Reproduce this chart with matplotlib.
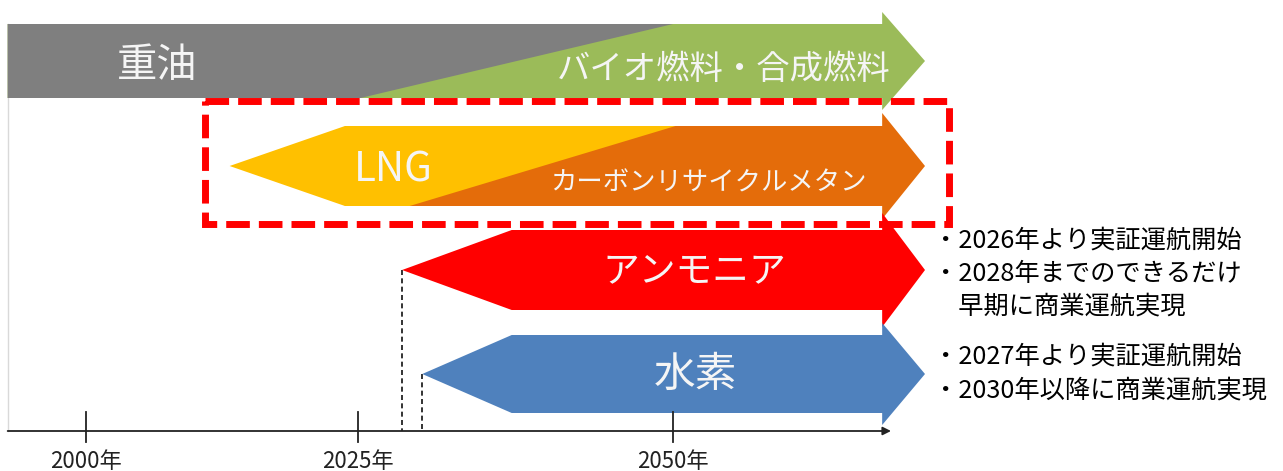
import numpy as np
import matplotlib
matplotlib.use("Agg")
import matplotlib.pyplot as plt
from matplotlib.patches import Polygon, Rectangle

plt.rcParams['font.family'] = ['Noto Sans CJK JP', 'DejaVu Sans']

# ---- data (years) ----
tick_years = [2000, 2025, 2050]
tick_labels = ["2000年", "2025年", "2050年"]

fuels = ["重油", "LNG", "アンモニア", "水素"]
fuel_colors = ["#7f7f7f", "#ffc000", "#ff0000", "#4f81bd"]
fuel_start = [1992.8, 2013.2, 2028.5, 2030.1]      # left end / tip of each arrow
left_head_base = [None, 2023.8, 2037.2, 2037.2]

next_fuels = ["バイオ燃料・合成燃料", "カーボンリサイクルメタン"]
next_colors = ["#9bbb59", "#e46c0a"]
switch_begin = [2025.2, 2029.1]   # new fuel appears (lower edge)
switch_full = [2050.0, 2050.2]    # new fuel fills the band (upper edge)

end_base = 2066.6
end_tip = 2070.0
axis_end = 2067.3

notes = [["・2026年より実証運航開始", "・2028年までのできるだけ", "　早期に商業運航実現"],
         ["・2027年より実証運航開始", "・2030年以降に商業運航実現"]]

# ---- schematic time scale (not linear in the original) ----
def fwd(x):
    x = np.asarray(x, dtype=float)
    return np.where(x < 2025, 86 + (x - 2000) * 10.88, 358 + (x - 2025) * 12.6)

def inv(p):
    p = np.asarray(p, dtype=float)
    return np.where(p < 358, 2000 + (p - 86) / 10.88, 2025 + (p - 358) / 12.6)

fig = plt.figure(figsize=(12.83, 4.71), dpi=100)
ax = fig.add_axes([0, 0, 1, 1])
ax.set_xscale('function', functions=(fwd, inv))
ax.set_xlim(float(inv(0)), float(inv(1283)))
ax.set_ylim(471, 0)
ax.axis('off')

row_y = [61, 166, 270, 374]
half_body = [37, 40, 40, 39]
half_head = [49, 53, 57, 51]


def arrow(x0, xb, yc, hb, hh, color):
    # x0: left tip (or left edge), xb: left head base (None = square end)
    pts = []
    if xb is None:
        pts += [(x0, yc + hb), (x0, yc - hb)]
    else:
        pts += [(x0, yc), (xb, yc - hb)]
    pts += [(end_base, yc - hb), (end_base, yc - hh), (end_tip, yc),
            (end_base, yc + hh), (end_base, yc + hb)]
    if xb is not None:
        pts += [(xb, yc + hb)]
    ax.add_patch(Polygon(pts, closed=True, facecolor=color, edgecolor='none', zorder=2))


# heavy oil -> bio / synthetic fuel
y, hb = row_y[0], half_body[0]
arrow(fuel_start[0], None, y, hb, half_head[0], next_colors[0])
ax.add_patch(Polygon([(fuel_start[0], y - hb), (switch_full[0], y - hb),
                      (switch_begin[0], y + hb), (fuel_start[0], y + hb)],
                     closed=True, facecolor=fuel_colors[0], edgecolor='none', zorder=3))

# LNG -> carbon recycle methane
y, hb = row_y[1], half_body[1]
arrow(left_head_base[1], None, y, hb, half_head[1], next_colors[1])
ax.add_patch(Polygon([(fuel_start[1], y), (left_head_base[1], y - hb), (switch_full[1], y - hb),
                      (switch_begin[1], y + hb), (left_head_base[1], y + hb)],
                     closed=True, facecolor=fuel_colors[1], edgecolor='none', zorder=3))

# ammonia, hydrogen
for i in (2, 3):
    arrow(fuel_start[i], left_head_base[i], row_y[i], half_body[i], half_head[i], fuel_colors[i])
    ax.plot([fuel_start[i], fuel_start[i]], [row_y[i], 431], color='#111111', lw=1.2,
            ls=(0, (3, 2)), zorder=1)

# labels on arrows
ax.text(2006.5, 65, fuels[0], color='#f5f5f5', fontsize=29, ha='center', va='center', zorder=5)
ax.text(2054.0, 70, next_fuels[0], color='#f5f5f5', fontsize=24, ha='center', va='center', zorder=5)
ax.text(2027.8, 170, fuels[1], color='#f5f5f5', fontsize=29, ha='center', va='center', zorder=5)
ax.text(2052.8, 183, next_fuels[1], color='#f5f5f5', fontsize=19, ha='center', va='center', zorder=5)
ax.text(2051.7, 272, fuels[2], color='#f5f5f5', fontsize=26.5, ha='center', va='center', zorder=5)
ax.text(2051.8, 375, fuels[3], color='#f5f5f5', fontsize=30, ha='center', va='center', zorder=5)

# highlight box around LNG row
ax.add_patch(Rectangle((2010.9, 101), 2071.9 - 2010.9, 122.5, fill=False,
                       edgecolor='#ff0000', lw=5, ls=(0, (3.4, 1.3)), zorder=6))

# notes
note_y = [[240, 274, 307], [357, 390]]
for lines, ys in zip(notes, note_y):
    for s, yy in zip(lines, ys):
        ax.text(2070.6, yy, s, color='black', fontsize=18.2, ha='left', va='center')

# time axis
ax.plot([fuel_start[0], fuel_start[0]], [24, 431], color='#d9d9d9', lw=1, zorder=0)
ax.annotate('', xy=(axis_end, 431), xytext=(fuel_start[0], 431),
            arrowprops=dict(arrowstyle='-|>', color='#222222', lw=1.3, mutation_scale=12,
                            shrinkA=0, shrinkB=0))
for ty, tl in zip(tick_years, tick_labels):
    ax.plot([ty, ty], [412, 442], color='#222222', lw=1.3)
    ax.text(ty, 462, tl, color='#222222', fontsize=16, ha='center', va='center')

fig.savefig("out.png", dpi=100)
